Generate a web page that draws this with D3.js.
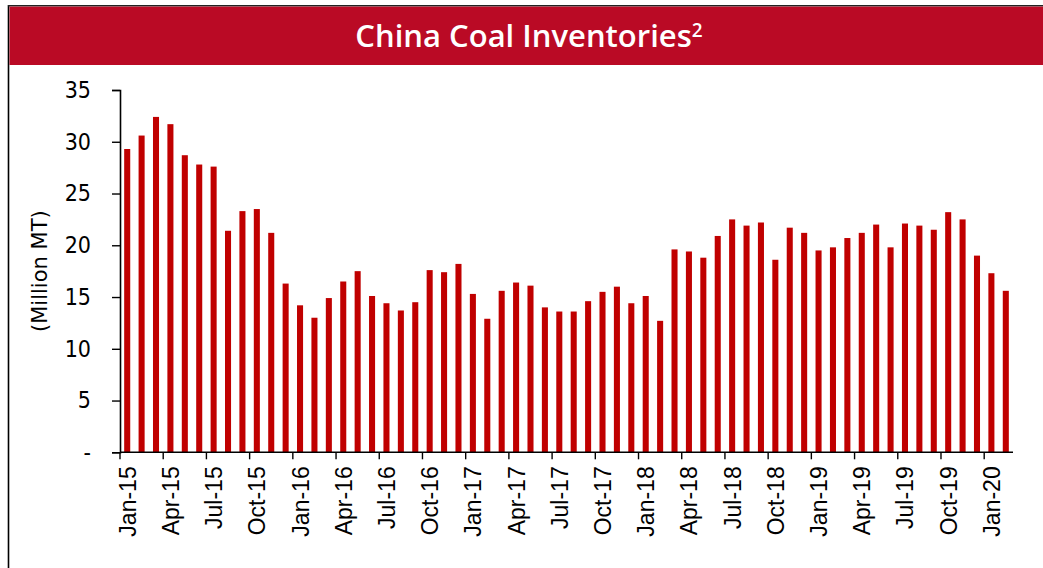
<!DOCTYPE html>
<html>
<head>
<meta charset="utf-8">
<script src="https://cdn.jsdelivr.net/npm/d3@7/dist/d3.min.js"></script>
<style>
  html, body { margin: 0; padding: 0; background: #ffffff; }
  svg { display: block; }
</style>
</head>
<body>
<svg id="chart" width="1043" height="568"></svg>
<script>
// Monthly China coal inventories, Jan-2015 to Feb-2020 (million metric tonnes)
const years = [15, 16, 17, 18, 19, 20];
const monthNames = ["Jan","Feb","Mar","Apr","May","Jun","Jul","Aug","Sep","Oct","Nov","Dec"];
const months = [];
years.forEach(y => monthNames.forEach(m => months.push(m + "-" + y)));
const categories = months.slice(0, 62);

const inventories = [
  29.3, 30.6, 32.4, 31.7, 28.7, 27.8, 27.6, 21.4, 23.3, 23.5, 21.2, 16.3,
  14.2, 13.0, 14.9, 16.5, 17.5, 15.1, 14.4, 13.7, 14.5, 17.6, 17.4, 18.2,
  15.3, 12.9, 15.6, 16.4, 16.1, 14.0, 13.6, 13.6, 14.6, 15.5, 16.0, 14.4,
  15.1, 12.7, 19.6, 19.4, 18.8, 20.9, 22.5, 21.9, 22.2, 18.6, 21.7, 21.2,
  19.5, 19.8, 20.7, 21.2, 22.0, 19.8, 22.1, 21.9, 21.5, 23.2, 22.5, 19.0,
  17.3, 15.6
];

const yTicks = [0, 5, 10, 15, 20, 25, 30, 35];
const xTickLabels = categories.filter((d, i) => i % 3 === 0);

const svg = d3.select("#chart");
const W = 1043, H = 568;

// frame and title banner
svg.append("line").attr("x1", 8.5).attr("x2", 8.5).attr("y1", 5).attr("y2", H)
  .attr("stroke", "#000").attr("stroke-width", 1.6);
svg.append("line").attr("x1", 8).attr("x2", W).attr("y1", 5.8).attr("y2", 5.8)
  .attr("stroke", "#222").attr("stroke-width", 1.6);
svg.append("rect").attr("x", 9.5).attr("y", 6.6).attr("width", W - 9.5).attr("height", 58.4)
  .attr("fill", "#BA0A25");

const title = svg.append("text")
  .attr("x", 529).attr("y", 47)
  .attr("text-anchor", "middle")
  .attr("fill", "#fff")
  .style("font-family", "'Open Sans', sans-serif")
  .style("font-weight", "600")
  .style("font-size", "31px");
title.append("tspan").text("China Coal Inventories");
title.append("tspan").text("2").attr("dy", -10).style("font-size", "19px");

// plot area
const plotLeft = 120, plotRight = 1013, plotTop = 90, plotBottom = 452.3;

const x = d3.scaleBand().domain(categories).range([plotLeft, plotRight]).paddingInner(0.58).paddingOuter(0.29);
const y = d3.scaleLinear().domain([0, 35]).range([plotBottom, plotTop]);

svg.append("g").selectAll("rect")
  .data(inventories)
  .join("rect")
  .attr("x", (d, i) => x(categories[i]))
  .attr("width", x.bandwidth())
  .attr("y", d => y(d))
  .attr("height", d => y(0) - y(d))
  .attr("fill", "#C00000");

// y axis
const yAxis = d3.axisLeft(y).tickValues(yTicks).tickSize(8).tickPadding(21)
  .tickFormat(d => d === 0 ? "-" : d);
const gy = svg.append("g").attr("transform", `translate(${plotLeft},0)`).call(yAxis);
gy.select(".domain").attr("stroke", "#000").attr("stroke-width", 1.6);
gy.selectAll(".tick line").attr("stroke", "#000").attr("stroke-width", 1.4);
gy.selectAll(".tick text")
  .attr("fill", "#000")
  .style("font-family", "'DejaVu Sans', sans-serif")
  .style("font-stretch", "condensed")
  .style("font-size", "23px");

// x axis: ticks at quarter boundaries, labels at the quarter's first month
const step = x.step();
const boundaries = d3.range(0, categories.length + 1, 3).map(i => plotLeft + i * step);
const gx = svg.append("g");
gx.append("line").attr("x1", plotLeft).attr("x2", plotRight).attr("y1", plotBottom).attr("y2", plotBottom)
  .attr("stroke", "#000").attr("stroke-width", 1.6);
gx.selectAll("line.tk").data(boundaries.filter(b => b < plotRight - 1)).join("line")
  .attr("class", "tk")
  .attr("x1", d => d).attr("x2", d => d)
  .attr("y1", plotBottom).attr("y2", plotBottom + 7)
  .attr("stroke", "#000").attr("stroke-width", 1.4);
gx.selectAll("text").data(xTickLabels).join("text")
  .attr("transform", d => `translate(${x(d) + x.bandwidth() / 2 + 8.5},${plotBottom + 14}) rotate(-90)`)
  .attr("text-anchor", "end")
  .attr("fill", "#000")
  .style("font-family", "'Liberation Sans', Arial, sans-serif")
  .style("font-size", "23px")
  .text(d => d);

// y axis title
svg.append("text")
  .attr("transform", `translate(47,${(plotTop + plotBottom) / 2}) rotate(-90)`)
  .attr("text-anchor", "middle")
  .attr("fill", "#000")
  .style("font-family", "'DejaVu Sans', sans-serif")
  .style("font-size", "21px")
  .text("(Million MT)");
</script>
</body>
</html>
